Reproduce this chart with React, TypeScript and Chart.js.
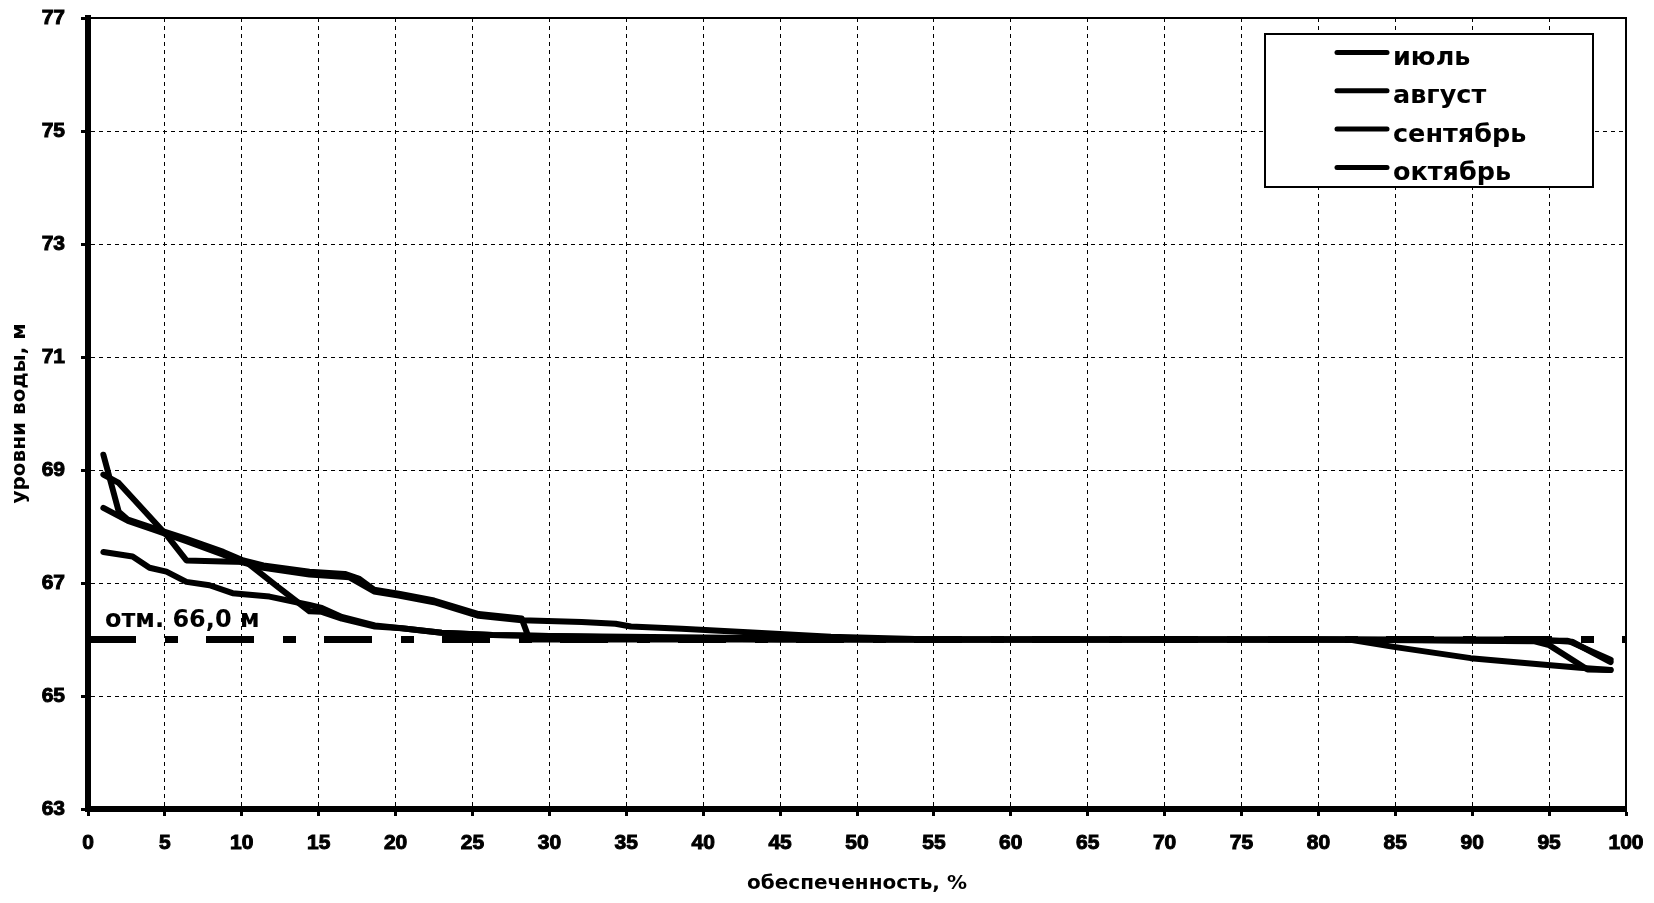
import React, { useEffect, useRef } from "react";
import { Chart, registerables } from "chart.js";

Chart.register(...registerables);

// ---- data ----
const seriesNames = ["июль", "август", "сентябрь", "октябрь"];

const julX = [1, 2, 2.6, 4.5, 6.4, 8.8, 10.1, 11.4, 14.4, 16.7, 17.6, 18.6, 20.2, 22.5, 25.4, 28.2, 28.7, 35, 45, 60, 80, 94, 96.5, 99];
const julY = [69.27, 68.26, 68.12, 67.95, 67.78, 67.55, 67.4, 67.31, 67.2, 67.16, 67.08, 66.88, 66.81, 66.69, 66.45, 66.37, 66.0, 66.0, 66.0, 66.0, 66.0, 66.0, 65.96, 65.6];

const augX = [1, 2, 5.1, 6.4, 8.8, 10.3, 12.3, 14.4, 15.2, 16.5, 18.65, 20.4, 23, 26.3, 30, 36, 45, 80, 96.2, 99];
const augY = [68.92, 68.77, 67.85, 67.4, 67.38, 67.37, 66.94, 66.5, 66.49, 66.37, 66.23, 66.2, 66.12, 66.08, 66.06, 66.03, 66.0, 66.0, 65.98, 65.64];

const sepX = [1, 2.6, 4.5, 6.4, 8.8, 10.1, 11.4, 14.4, 17, 18.6, 20.2, 22.5, 25.4, 28.2, 32.1, 34.3, 35.3, 38.6, 42.9, 48.3, 55, 82, 84.9, 89.9, 94.9, 97, 99];
const sepY = [68.33, 68.1, 67.92, 67.74, 67.5, 67.36, 67.27, 67.15, 67.1, 66.85, 66.78, 66.66, 66.42, 66.34, 66.31, 66.28, 66.23, 66.19, 66.13, 66.05, 66.0, 66.0, 65.87, 65.67, 65.55, 65.5, 65.46];

const octX = [1, 2.9, 4, 5.1, 6.4, 7.9, 9.4, 11.8, 14.4, 15.2, 16.5, 18.65, 20.4, 23, 26.3, 30, 35, 45, 52, 80, 94, 95, 97.5, 99];
const octY = [67.55, 67.47, 67.27, 67.2, 67.02, 66.96, 66.82, 66.76, 66.61, 66.56, 66.4, 66.25, 66.2, 66.12, 66.08, 66.06, 66.05, 66.02, 66.0, 66.0, 65.97, 65.9, 65.47, 65.46];

const refLevel = 66;
const refX = [0, 100];
const refLabel = "отм. 66,0 м";

const xMin = 0;
const xMax = 100;
const xStep = 5;
const yMin = 63;
const yMax = 77;
const yStep = 2;
const xTitle = "обеспеченность, %";
const yTitle = "уровни воды, м";

const toPoints = (xs: number[], ys: number[]) => xs.map((x, i) => ({ x, y: ys[i] }));

const tickFont = { family: "'Liberation Sans', Arial, sans-serif", weight: "bold" as const, size: 21 };
const titleFont = { family: "'DejaVu Sans', sans-serif", weight: "bold" as const, size: 20 };

const framePlugin = {
  id: "frameAndLegend",
  afterDraw(chart: any) {
    const { ctx, chartArea } = chart;
    const ca = chartArea;
    ctx.save();
    // top & right frame
    ctx.strokeStyle = "#000";
    ctx.lineWidth = 2;
    ctx.beginPath();
    ctx.moveTo(ca.left, ca.top);
    ctx.lineTo(ca.right, ca.top);
    ctx.lineTo(ca.right, ca.bottom);
    ctx.stroke();

    // reference label
    const xs = chart.scales.x;
    const ys = chart.scales.y;
    ctx.fillStyle = "#000";
    ctx.font = "bold 24px 'DejaVu Sans', sans-serif";
    ctx.textAlign = "left";
    ctx.textBaseline = "alphabetic";
    ctx.fillText(refLabel, xs.getPixelForValue(1.1), ys.getPixelForValue(refLevel) - 13);

    // legend box
    const bx = ca.right - 361;
    const by = ca.top + 16;
    const bw = 328;
    const bh = 153;
    ctx.fillStyle = "#fff";
    ctx.fillRect(bx, by, bw, bh);
    ctx.strokeStyle = "#000";
    ctx.lineWidth = 2;
    ctx.strokeRect(bx, by, bw, bh);
    ctx.font = "bold 25.5px 'DejaVu Sans', sans-serif";
    const rows = chart.data.datasets.filter((d: any) => !d.isRef);
    rows.forEach((d: any, i: number) => {
      const base = by + 31 + i * 38.3;
      ctx.strokeStyle = d.borderColor;
      ctx.lineWidth = 5;
      ctx.lineCap = "round";
      ctx.beginPath();
      ctx.moveTo(bx + 72, base - 12.5);
      ctx.lineTo(bx + 122, base - 12.5);
      ctx.stroke();
      ctx.fillStyle = "#000";
      ctx.fillText(d.label, bx + 128, base);
    });
    ctx.restore();
  },
};

export default function App() {
  const ref = useRef<HTMLCanvasElement | null>(null);

  useEffect(() => {
    if (!ref.current) return;
    const mk = (label: string, xs: number[], ys: number[]) => ({
      label,
      data: toPoints(xs, ys),
      showLine: true,
      borderColor: "#000",
      backgroundColor: "#000",
      borderWidth: 6,
      pointRadius: 0,
      borderCapStyle: "round",
      borderJoinStyle: "round",
      tension: 0,
    });
    const gridOpts = {
      color: "#000",
      lineWidth: 1,
      drawTicks: true,
      tickLength: 7,
      tickWidth: 3,
      tickColor: "#000",
      tickBorderDash: [],
    };
    const chart = new Chart(ref.current, {
      type: "scatter",
      data: {
        datasets: [
          {
            label: refLabel,
            isRef: true,
            data: toPoints(refX, refX.map(() => refLevel)),
            showLine: true,
            borderColor: "#000",
            borderWidth: 7,
            borderDash: [48, 29, 13, 28],
            borderCapStyle: "butt",
            pointRadius: 0,
          } as any,
          mk(seriesNames[0], julX, julY),
          mk(seriesNames[1], augX, augY),
          mk(seriesNames[2], sepX, sepY),
          mk(seriesNames[3], octX, octY),
        ],
      },
      options: {
        animation: false,
        responsive: false,
        events: [],
        layout: { padding: { top: 18, right: 28, left: 0, bottom: 0 } },
        plugins: {
          legend: { display: false },
          tooltip: { enabled: false },
        },
        scales: {
          x: {
            type: "linear",
            min: xMin,
            max: xMax,
            afterFit: (s: any) => {
              s.height = 94;
              s.paddingLeft = 0;
              s.paddingRight = 0;
              s.paddingTop = 0;
              s.paddingBottom = 0;
            },
            ticks: {
              stepSize: xStep,
              color: "#000",
              font: tickFont,
              padding: 15,
              maxRotation: 0,
              textStrokeColor: "#000",
              textStrokeWidth: 1,
            },
            grid: gridOpts,
            border: { display: true, color: "#000", width: 6, dash: [4, 4] },
            title: { display: true, text: xTitle, color: "#000", font: titleFont, padding: { top: 0, bottom: 7 } },
          },
          y: {
            type: "linear",
            min: yMin,
            max: yMax,
            afterFit: (s: any) => {
              s.width = 88;
              s.paddingLeft = 0;
              s.paddingRight = 0;
              s.paddingTop = 0;
              s.paddingBottom = 0;
            },
            ticks: {
              stepSize: yStep,
              color: "#000",
              font: tickFont,
              padding: 16,
              textStrokeColor: "#000",
              textStrokeWidth: 1,
            },
            grid: gridOpts,
            border: { display: true, color: "#000", width: 6, dash: [4, 4] },
            title: { display: true, text: yTitle, color: "#000", font: titleFont, padding: { top: 8, bottom: 0 } },
          },
        },
      } as any,
      plugins: [framePlugin],
    });
    return () => chart.destroy();
  }, []);

  return (
    <div style={{ position: "absolute", left: 0, top: 0, width: 1654, height: 903, background: "#fff" }}>
      <canvas ref={ref} width={1654} height={903} style={{ display: "block", width: 1654, height: 903 }} />
    </div>
  );
}
